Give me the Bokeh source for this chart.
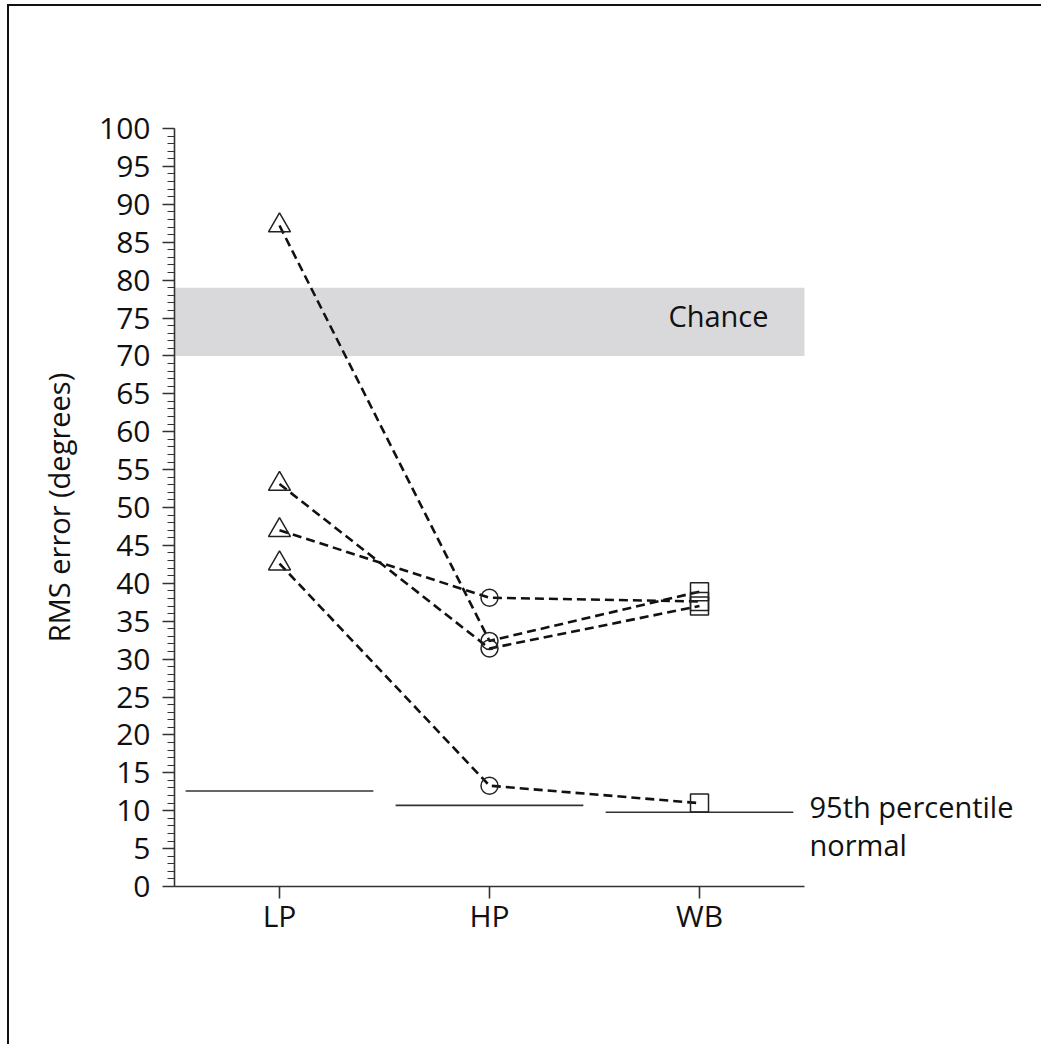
from bokeh.plotting import figure
from bokeh.models import BoxAnnotation, Label, FixedTicker, SingleIntervalTicker, Range1d
from bokeh.embed import file_html
from bokeh.resources import INLINE

# ---- data ----
conditions = ["LP", "HP", "WB"]
cond_pos = [1, 2, 3]
subj1 = [87.2, 32.4, 38.9]
subj2 = [53.1, 31.4, 37.0]
subj3 = [47.0, 38.1, 37.6]
subj4 = [42.6, 13.3, 11.0]
subjects = [subj1, subj2, subj3, subj4]
normal95 = [12.6, 10.7, 9.8]
chance_low = 70
chance_high = 79

FONT = "Open Sans"
INK = "#111111"

p = figure(width=1034, height=1040,
           x_range=Range1d(0.5, 0.5 + 853 / 210), y_range=Range1d(0, 100),
           output_backend="svg", toolbar_location=None,
           min_border_left=165, min_border_right=16,
           min_border_top=122, min_border_bottom=160)
p.styles = {"border-top": "2px solid #111", "border-left": "2px solid #111",
            "margin-left": "7px", "margin-top": "4px"}
p.background_fill_color = "white"
p.border_fill_color = "white"
p.outline_line_color = None
p.grid.grid_line_color = None

# chance band
p.add_layout(BoxAnnotation(bottom=chance_low, top=chance_high, left=0.5, right=3.5,
                           fill_color="#d9d9db", fill_alpha=1.0,
                           line_color=None, level="underlay"))
p.add_layout(Label(x=2.852, y=75.35, text="Chance", text_font=FONT,
                   text_font_size="29px", text_color=INK,
                   text_baseline="alphabetic", text_align="left"))

# 95th percentile normal segments
half = 0.447
p.segment(x0=[c - half for c in cond_pos], y0=normal95,
          x1=[c + half for c in cond_pos], y1=normal95,
          line_color="#333333", line_width=1.6)
p.add_layout(Label(x=3.524, y=10.6, text="95th percentile", text_font=FONT,
                   text_font_size="29px", text_color=INK,
                   text_baseline="alphabetic", text_align="left"))
p.add_layout(Label(x=3.524, y=5.5, text="normal", text_font=FONT,
                   text_font_size="29px", text_color=INK,
                   text_baseline="alphabetic", text_align="left"))

# subject lines
for s in subjects:
    p.line(cond_pos, s, line_dash="9 5", line_width=2.6, line_color=INK)

# markers
markers = ["triangle", "circle", "square"]
sizes = [22, 17, 18]
for i, (m, sz) in enumerate(zip(markers, sizes)):
    p.scatter(x=[cond_pos[i]] * len(subjects), y=[s[i] for s in subjects],
              marker=m, size=sz, fill_color=None,
              line_color="#222222", line_width=1.5)

# axes
xa = p.xaxis[0]
xa.ticker = FixedTicker(ticks=cond_pos)
xa.bounds = (0.5, 3.5)
xa.major_label_overrides = {c: n for c, n in zip(cond_pos, conditions)}
xa.major_tick_in = 0
xa.major_tick_out = 12
xa.major_label_standoff = -4

ya = p.yaxis[0]
ya.ticker = SingleIntervalTicker(interval=5, num_minor_ticks=5)
ya.major_tick_in = 0
ya.major_tick_out = 12
ya.minor_tick_in = 0
ya.minor_tick_out = 7
ya.major_label_standoff = 12
ya.axis_label = "RMS error (degrees)"
ya.axis_label_standoff = 18
ya.axis_label_text_font = FONT
ya.axis_label_text_font_size = "29px"
ya.axis_label_text_font_style = "normal"
ya.axis_label_text_color = INK

for ax in (xa, ya):
    ax.axis_line_color = "#333333"
    ax.axis_line_width = 1.6
    ax.major_tick_line_color = "#333333"
    ax.major_tick_line_width = 1.6
    ax.minor_tick_line_color = "#333333" if ax is ya else None
    ax.minor_tick_line_width = 1.2
    ax.major_label_text_font = FONT
    ax.major_label_text_font_size = "30px"
    ax.major_label_text_color = INK

open("out.html", "w").write(file_html(p, INLINE))
